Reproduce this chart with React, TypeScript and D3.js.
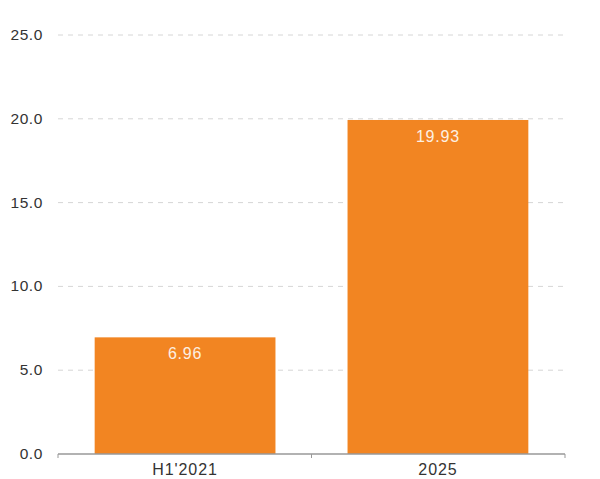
import React from "react";
import * as d3 from "d3";

const categories = ["H1'2021", "2025"];
const values = [6.96, 19.93];
const valueLabels = ["6.96", "19.93"];
const yTicks = [0, 5, 10, 15, 20, 25];

export default function App() {
  const width = 600;
  const height = 479;
  const x0 = 58, x1 = 565;
  const x = d3.scaleBand<string>().domain(categories).range([x0, x1]).paddingInner(0.285).paddingOuter(0.145);
  const y = d3.scaleLinear().domain([0, 25]).range([454, 35]);
  const font = "'Liberation Sans', Arial, sans-serif";
  return (
    <svg width={width} height={height} style={{ position: "absolute", left: 0, top: 0 }}>
      <rect width={width} height={height} fill="#fff" />
      {yTicks.map((t) => (
        <g key={t}>
          {t > 0 && (
            <line x1={x0} x2={x1} y1={y(t)} y2={y(t)} stroke="#d6d6d6" strokeDasharray="5,5" strokeWidth={1} />
          )}
          <text x={43} y={y(t) + 5} textAnchor="end" fontFamily={font} fontSize={15.5} letterSpacing={0.6} fill="#333">
            {t.toFixed(1)}
          </text>
        </g>
      ))}
      {categories.map((c, i) => (
        <g key={c}>
          <rect x={x(c)} y={y(values[i])} width={x.bandwidth()} height={y(0) - y(values[i])} fill="#F28522" />
          <text x={(x(c) as number) + x.bandwidth() / 2} y={y(values[i]) + 22} textAnchor="middle" fontFamily={font} fontSize={16} letterSpacing={0.8} fill="#fdf0e2">
            {valueLabels[i]}
          </text>
          <text x={(x(c) as number) + x.bandwidth() / 2} y={475} textAnchor="middle" fontFamily={font} fontSize={16} letterSpacing={0.9} fill="#333">
            {c}
          </text>
        </g>
      ))}
      <line x1={x0} x2={x1} y1={454} y2={454} stroke="#999" strokeWidth={1.5} />
      {[x0, (x0 + x1) / 2, x1].map((t, i) => (
        <line key={i} x1={t} x2={t} y1={454} y2={458} stroke="#999" strokeWidth={1} />
      ))}
    </svg>
  );
}
